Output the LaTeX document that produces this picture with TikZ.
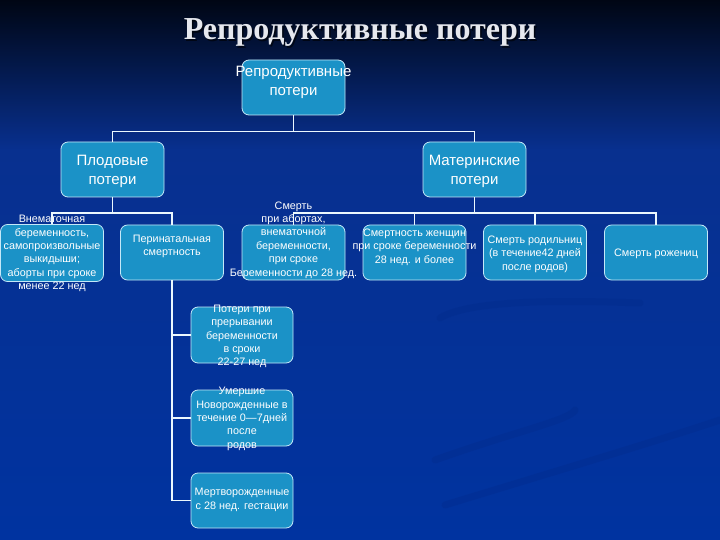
\documentclass[tikz,border=0pt]{standalone}
\usepackage{fontspec}
\newfontfamily\arialfont{Liberation Sans}
\newfontfamily\timesfont{Liberation Serif}
\usepackage{tikz}
\usetikzlibrary{calc,positioning}
\definecolor{bgtop}{HTML}{000614}
\definecolor{bgmid}{HTML}{08308F}
\definecolor{bgblue}{HTML}{0033A0}
\definecolor{boxfill}{HTML}{1B92C7}
\definecolor{boxline}{HTML}{C4E8F8}
\definecolor{swirl}{HTML}{022A8A}
\definecolor{titlegray}{HTML}{E6E8EE}

\begin{document}
\begin{tikzpicture}[x=1pt, y=-1pt,
  box/.style={draw=boxline, fill=boxfill, rounded corners=7pt, line width=0.8pt,
    minimum width=103pt, minimum height=55pt, inner sep=0pt},
  txt/.style={text=white, align=center, inner sep=0pt,
    font=\arialfont\fontsize{10.8}{13.4}\selectfont},
  bigtxt/.style={txt, font=\arialfont\fontsize{15}{19}\selectfont},
  titletxt/.style={anchor=base, font=\timesfont\bfseries\fontsize{32}{36}\selectfont},
  link/.style={draw=white!92!cyan, line width=1.6pt}]
  % background
  \useasboundingbox (0,0) rectangle (720,540);
  \shade[top color=bgtop, bottom color=bgmid] (0,0) rectangle (720,150);
  \shade[top color=bgmid, bottom color=bgblue] (0,150) rectangle (720,540);
  \draw[swirl, line width=7pt, opacity=0.35, line cap=round]
    (440,318) .. controls (470,300) and (560,300) .. (640,303);
  \draw[swirl, line width=7pt, opacity=0.35, line cap=round]
    (435,460) .. controls (520,430) and (570,420) .. (575,410);
  \draw[swirl, line width=7pt, opacity=0.35, line cap=round]
    (445,505) .. controls (560,470) and (660,440) .. (720,420);

  \node[titletxt, text=black, opacity=0.6] (title-sh) at (361.5,41.5) {Репродуктивные потери};
  \node[titletxt, text=titlegray] (title) at (360,40) {Репродуктивные потери};

  % boxes
  \node[box] (root) at (293.5,87.5) {};
  \node[box] (plod) at (112.5,169.5) {};
  \node[box] (mat) at (474.5,169.5) {};
  \node[box, minimum height=57pt] (vnem) at (52,253) {};
  \node[box] (peri) at (172,252.5) {};
  \node[box] (abort) at (293.5,252.5) {};
  \node[box] (zhen) at (414.5,252.5) {};
  \node[box] (rodil) at (535,252.5) {};
  \node[box] (rozh) at (656,252.5) {};
  \node[box, minimum width=102pt, minimum height=56pt] (poter) at (242,335) {};
  \node[box, minimum width=102pt, minimum height=56pt] (umer) at (242,418) {};
  \node[box, minimum width=102pt] (mertv) at (242,500.5) {};

  % connectors
  \draw[link] (root.south) -- ++(0,16) -| (plod.north);
  \draw[link] (root.south) -- ++(0,16) -| (mat.north);
  \draw[link] (plod.south) -- ++(0,15.5) -| (vnem.north);
  \draw[link] (plod.south) -- ++(0,15.5) -| (peri.north);
  \foreach \n in {abort,zhen,rodil,rozh}
    \draw[link] (mat.south) -- ++(0,15.5) -| (\n.north);
  \foreach \n in {poter,umer,mertv}
    \draw[link] (peri.south) |- (\n.west);

  % texts
  \node[bigtxt] (t-root) at (293.5,82) {Репродуктивные\\потери};
  \node[bigtxt] (t-plod) at (112.5,171.5) {Плодовые\\потери};
  \node[bigtxt] (t-mat) at (474.5,171.5) {Материнские\\потери};
  \node[txt] (t-vnem) at (52,253.5) {Внематочная\\беременность,\\самопроизвольные\\выкидыши;\\аборты при сроке\\менее 22 нед};
  \node[txt] (t-peri) at (172,246.5) {Перинатальная\\смертность};
  \node[txt] (t-abort) at (293.5,240) {Смерть\\при абортах,\\внематочной\\беременности,\\при сроке\\Беременности до 28 нед.};
  \node[txt] (t-zhen) at (414.5,247) {Смертность женщин\\при сроке беременности\\28 нед.  и более};
  \node[txt] (t-rodil) at (535,254) {Смерть родильниц\\(в течение42 дней\\после родов)};
  \node[txt] (t-rozh) at (656,254) {Смерть рожениц};
  \node[txt] (t-poter) at (242,336.5) {Потери при\\прерывании\\беременности\\в сроки\\22-27 нед};
  \node[txt] (t-umer) at (242,419) {Умершие\\Новорожденные в\\течение 0—7дней\\после\\родов};
  \node[txt] (t-mertv) at (242,500) {Мертворожденные\\с 28 нед. гестации};
\end{tikzpicture}
\end{document}
